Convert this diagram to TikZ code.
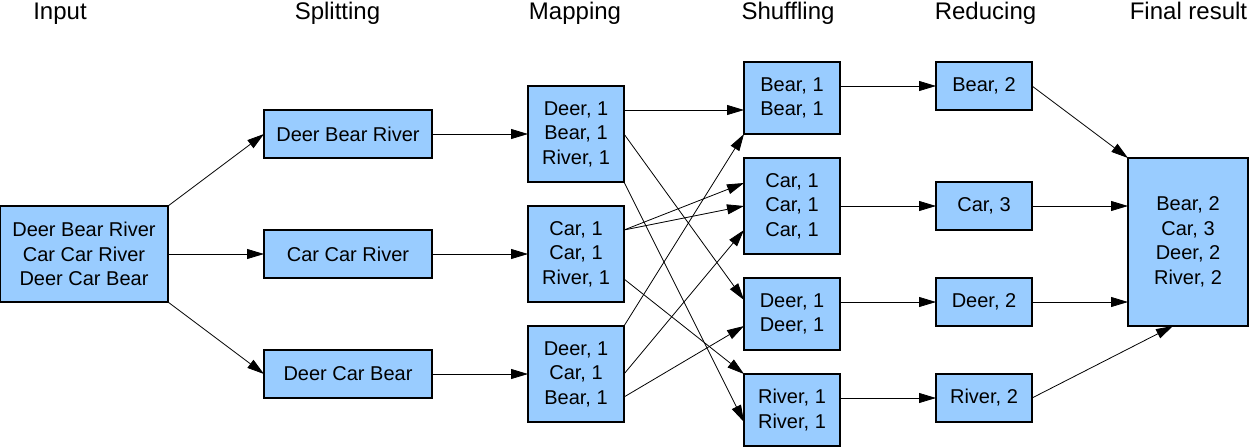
\documentclass[tikz,border=0pt]{standalone}
\usepackage{fontspec}
\setmainfont{Liberation Sans}
\usetikzlibrary{arrows.meta}

\definecolor{boxblue}{HTML}{99CCFF}

\begin{document}
\begin{tikzpicture}[x=1pt, y=-1pt,
    box/.style={draw=black, line width=1.2pt, fill=boxblue, inner sep=0pt, outer sep=0pt,
      align=center, font=\fontsize{20}{24.5}\selectfont},
    hdr/.style={anchor=base, font=\fontsize{24}{28}\selectfont},
    link/.style={line width=0.8pt, -{Triangle[length=17pt, width=10pt]}}]
  \useasboundingbox (0,0) rectangle (1249,447);

  % column headings
  \node[hdr] (hIn)  at (60,19)     {Input};
  \node[hdr] (hSp)  at (337.5,19)  {Splitting};
  \node[hdr] (hMap) at (575,19)    {Mapping};
  \node[hdr] (hSh)  at (788,19)    {Shuffling};
  \node[hdr] (hRed) at (985.5,19)  {Reducing};
  \node[hdr] (hFin) at (1188.5,19) {Final result};

  % input
  \node[box, minimum width=168, minimum height=96] (in) at (84,254)
    {Deer Bear River\\Car Car River\\Deer Car Bear};

  % splitting
  \node[box, minimum width=168, minimum height=48] (s1) at (348,134) {Deer Bear River};
  \node[box, minimum width=168, minimum height=48] (s2) at (348,254) {Car Car River};
  \node[box, minimum width=168, minimum height=48] (s3) at (348,374) {Deer Car Bear};

  % mapping
  \node[box, minimum width=96, minimum height=96] (m1) at (576,134) {Deer, 1\\Bear, 1\\River, 1};
  \node[box, minimum width=96, minimum height=96] (m2) at (576,254) {Car, 1\\Car, 1\\River, 1};
  \node[box, minimum width=96, minimum height=96] (m3) at (576,374) {Deer, 1\\Car, 1\\Bear, 1};

  % shuffling
  \node[box, minimum width=96, minimum height=72] (h1) at (792,98)  {Bear, 1\\Bear, 1};
  \node[box, minimum width=96, minimum height=96] (h2) at (792,206) {Car, 1\\Car, 1\\Car, 1};
  \node[box, minimum width=96, minimum height=72] (h3) at (792,314) {Deer, 1\\Deer, 1};
  \node[box, minimum width=96, minimum height=72] (h4) at (792,410) {River, 1\\River, 1};

  % reducing
  \node[box, minimum width=96, minimum height=48] (r1) at (984,86)  {Bear, 2};
  \node[box, minimum width=96, minimum height=48] (r2) at (984,206) {Car, 3};
  \node[box, minimum width=96, minimum height=48] (r3) at (984,302) {Deer, 2};
  \node[box, minimum width=96, minimum height=48] (r4) at (984,398) {River, 2};

  % final result
  \node[box, minimum width=120, minimum height=168] (fin) at (1188,242)
    {Bear, 2\\Car, 3\\Deer, 2\\River, 2};

  % input -> splitting -> mapping
  \draw[link] (in.north east) -- (s1.west);
  \draw[link] (in.east) -- (s2.west);
  \draw[link] (in.south east) -- (s3.west);
  \foreach \i in {1,2,3} { \draw[link] (s\i.east) -- (m\i.west); }

  % mapping -> shuffling
  \draw[link] ([yshift=24pt]m1.east) -- ([yshift=-12pt]h1.west);
  \draw[link] (m1.east) -- ([yshift=14pt]h3.west);
  \draw[link] (m1.south east) -- ([yshift=-12pt]h4.west);
  \draw[link] ([yshift=24pt]m2.east) -- ([yshift=23pt]h2.west);
  \draw[link] ([yshift=24pt]m2.east) -- (h2.west);
  \draw[link] ([yshift=-25pt]m2.east) -- (h4.north west);
  \draw[link] (m3.north east) -- (h1.south west);
  \draw[link] (m3.east) -- ([yshift=-24pt]h2.west);
  \draw[link] ([yshift=-23pt]m3.east) -- ([yshift=-12pt]h3.west);

  % shuffling -> reducing
  \draw[link] (r1.west -| h1.east) -- (r1.west);
  \draw[link] (h2.east) -- (r2.west);
  \draw[link] (r3.west -| h3.east) -- (r3.west);
  \draw[link] (r4.west -| h4.east) -- (r4.west);

  % reducing -> final result
  \draw[link] (r1.east) -- (fin.north west);
  \draw[link] (r2.east) -- (r2.east -| fin.west);
  \draw[link] (r3.east) -- (r3.east -| fin.west);
  \draw[link] (r4.east) -- ([xshift=-15pt]fin.south);
\end{tikzpicture}
\end{document}
